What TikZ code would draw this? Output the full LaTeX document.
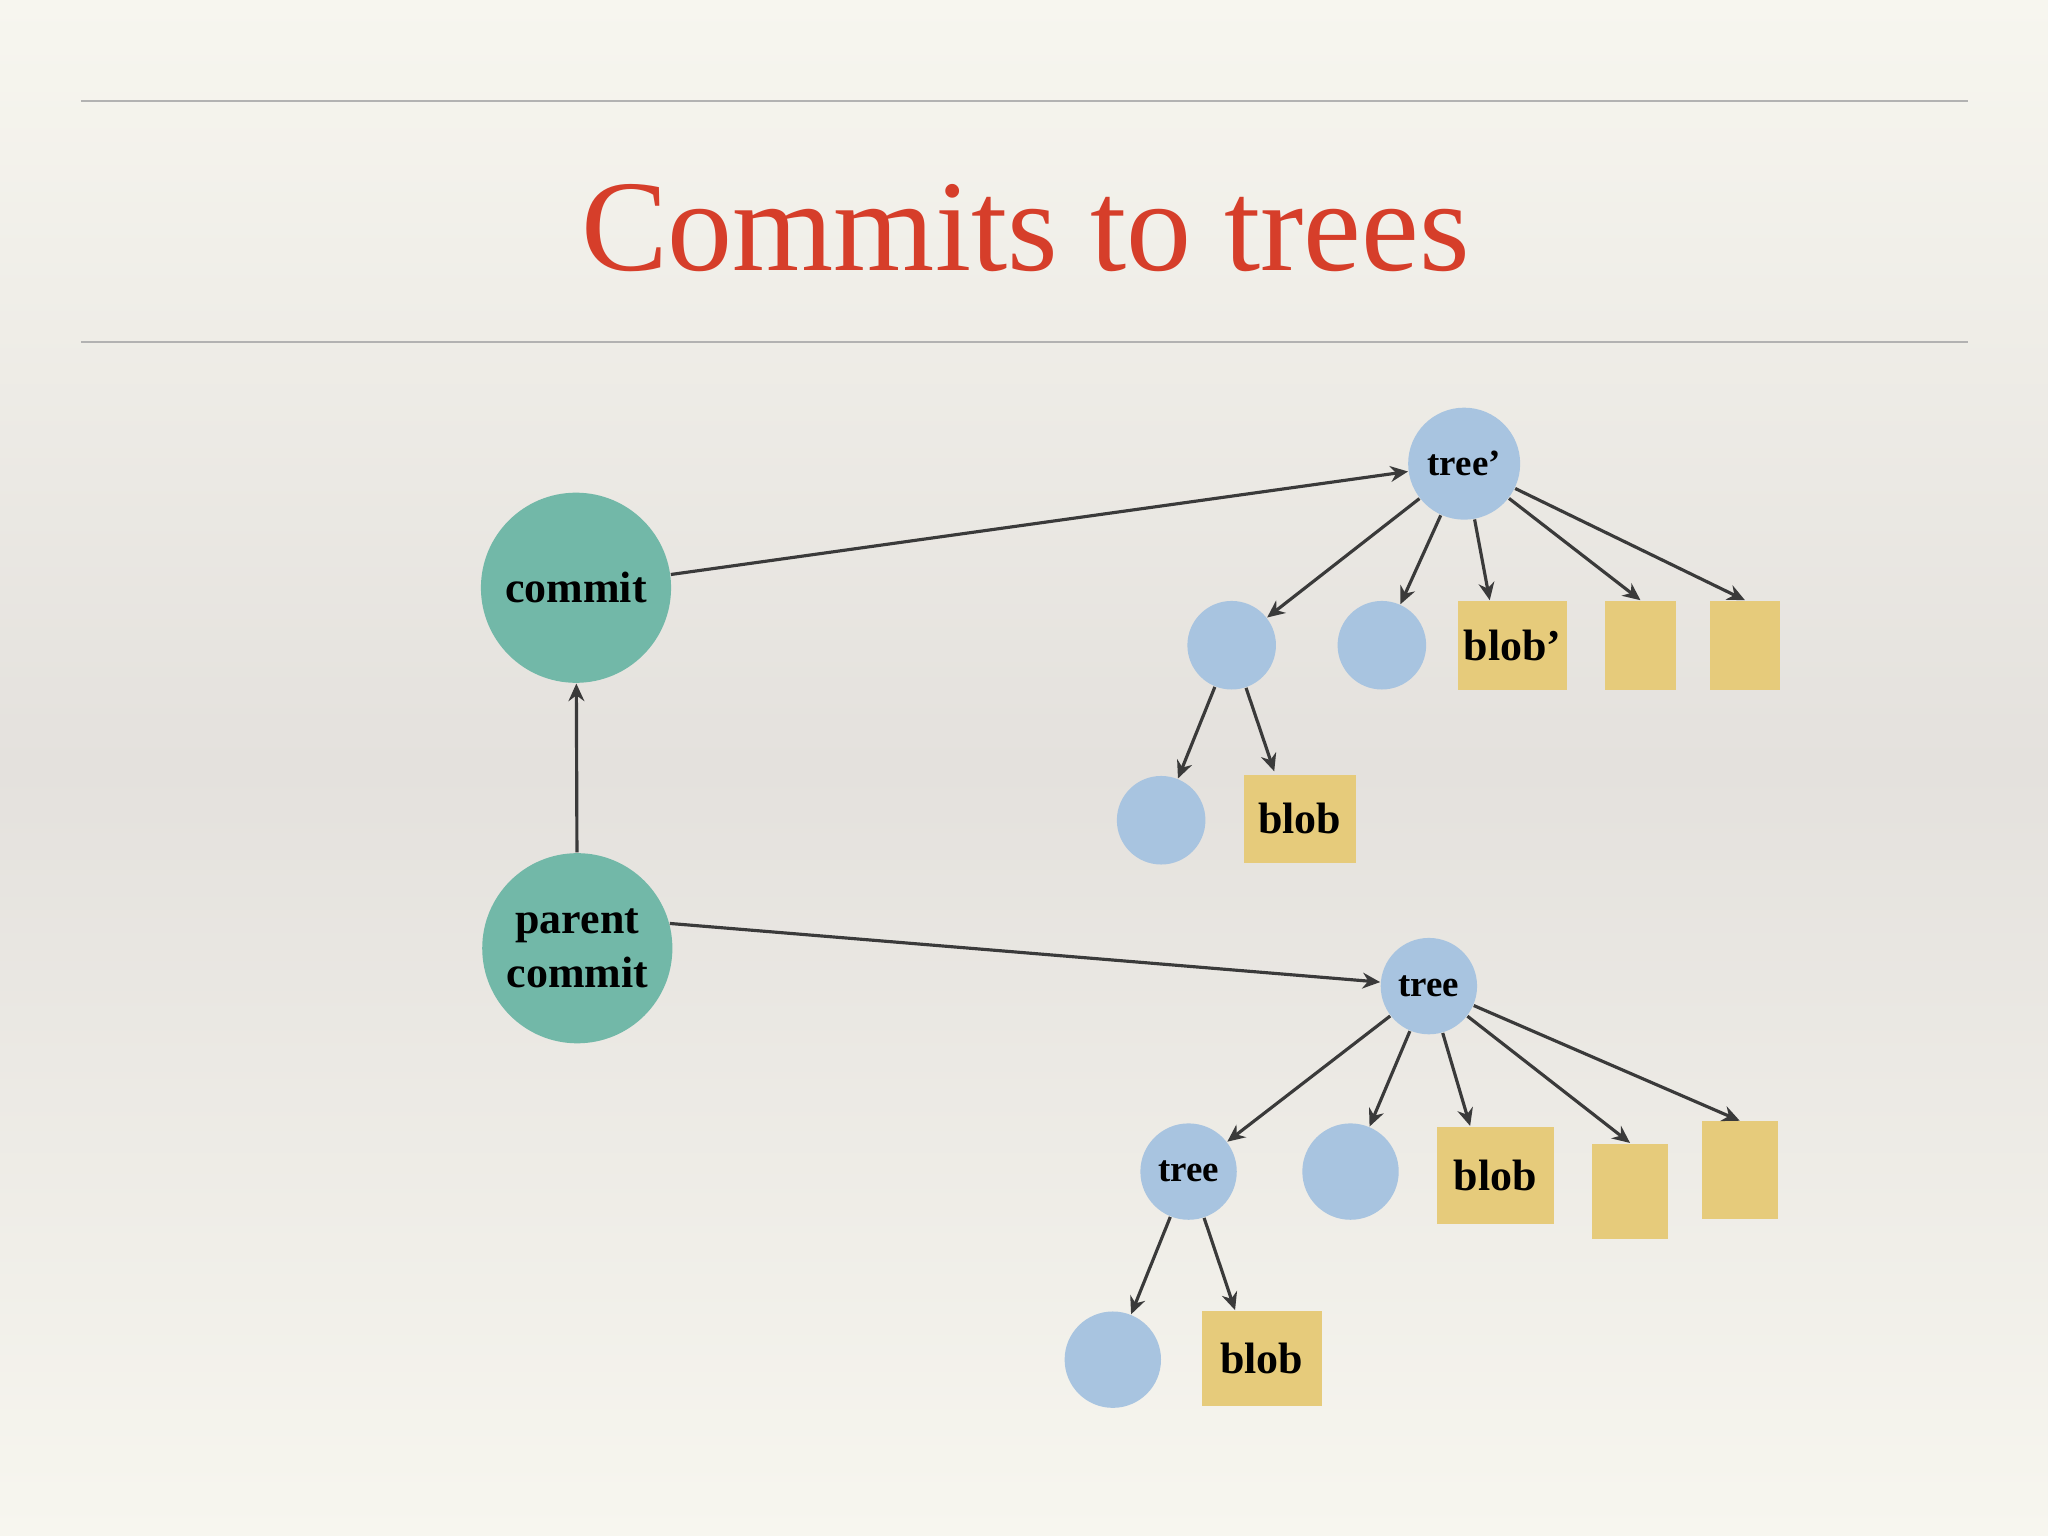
\documentclass[tikz,border=0pt]{standalone}
\usepackage{fontspec}
\setmainfont{Liberation Serif}
\usetikzlibrary{arrows.meta,calc}
\definecolor{bgtop}{HTML}{F7F6EF}
\definecolor{bgmid}{HTML}{E4E1DD}
\definecolor{teal}{HTML}{72B8A8}
\definecolor{blu}{HTML}{A8C4E0}
\definecolor{yel}{HTML}{E6CB7B}
\definecolor{red}{HTML}{D63E2A}
\definecolor{arr}{HTML}{3A3A3A}
\tikzset{
 cnode/.style={circle,fill=teal,inner sep=0pt,minimum size={146*0.3706pt},font=\bfseries\fontsize{12.5}{15.5}\selectfont,align=center},
 tnode/.style={circle,fill=blu,inner sep=0pt,minimum size={#1*0.3706pt},font=\bfseries\fontsize{10.5}{12}\selectfont},
 bnode/.style 2 args={rectangle,fill=yel,inner sep=0pt,minimum width={#1*0.3706pt},minimum height={#2*0.3706pt},font=\bfseries\fontsize{12.5}{15}\selectfont},
 con/.style={draw=arr,line width=0.9pt,-{Stealth[length=5pt,width=4.5pt]}}
}
\begin{document}
\begin{tikzpicture}[x=0.013061cm,y=-0.013061cm]
\useasboundingbox (0,0) rectangle (1568,1176);
\shade[top color=bgtop,bottom color=bgtop,middle color=bgmid] (0,0) rectangle (1568,1176);
\draw[gray!60,line width=0.6pt] (62,77) -- (1507,77);
\draw[gray!60,line width=0.6pt] (62,262) -- (1507,262);
\node[text=red,font=\fontsize{37}{40}\selectfont] (title) at (785,175) {Commits to trees};
\node[cnode] (commit) at (441,450) {commit};
\node[cnode] (parent) at (442,726) {parent\\commit};
% upper tree
\node[tnode=86] (tp) at (1121,355) {tree’};
\node[tnode=68] (u1) at (943,494) {};
\node[tnode=68] (u2) at (1058,494) {};
\node[bnode={84}{68}] (ub) at (1158,494) {blob’};
\node[bnode={54}{68}] (ur1) at (1256,494) {};
\node[bnode={54}{68}] (ur2) at (1336,494) {};
\node[tnode=68] (u3) at (889,628) {};
\node[bnode={86}{68}] (ub2) at (995,627) {blob};
% lower tree
\node[tnode=74] (t) at (1094,755) {tree};
\node[tnode=74] (l1) at (910,897) {tree};
\node[tnode=74] (l2) at (1034,897) {};
\node[bnode={90}{75}] (lb) at (1145,900) {blob};
\node[bnode={58}{73}] (lr1) at (1248,912) {};
\node[bnode={58}{75}] (lr2) at (1332,896) {};
\node[tnode=74] (l3) at (852,1041) {};
\node[bnode={92}{73}] (lb2) at (966,1040) {blob};
% connectors
\draw[con] (parent) -- (commit);
\draw[con] (commit) -- (tp);
\draw[con] (parent.15) -- (t);
\draw[con] (tp) -- (u1);
\draw[con] (tp) -- (u2);
\draw[con] (tp) -- ($(ub.north west)+(25,0)$);
\draw[con] (tp) -- (ur1.north);
\draw[con] (tp) -- (ur2.north);
\draw[con] (u1) -- (u3);
\draw[con] (u1) -- ($(ub2.north west)+(24,-2)$);
\draw[con] (t) -- (l1);
\draw[con] (t) -- (l2);
\draw[con] (t) -- ($(lb.north west)+(26,0)$);
\draw[con] (t) -- (lr1.north);
\draw[con] (t) -- (lr2.north);
\draw[con] (l1) -- (l3);
\draw[con] (l1) -- ($(lb2.north west)+(26,0)$);
\end{tikzpicture}
\end{document}
